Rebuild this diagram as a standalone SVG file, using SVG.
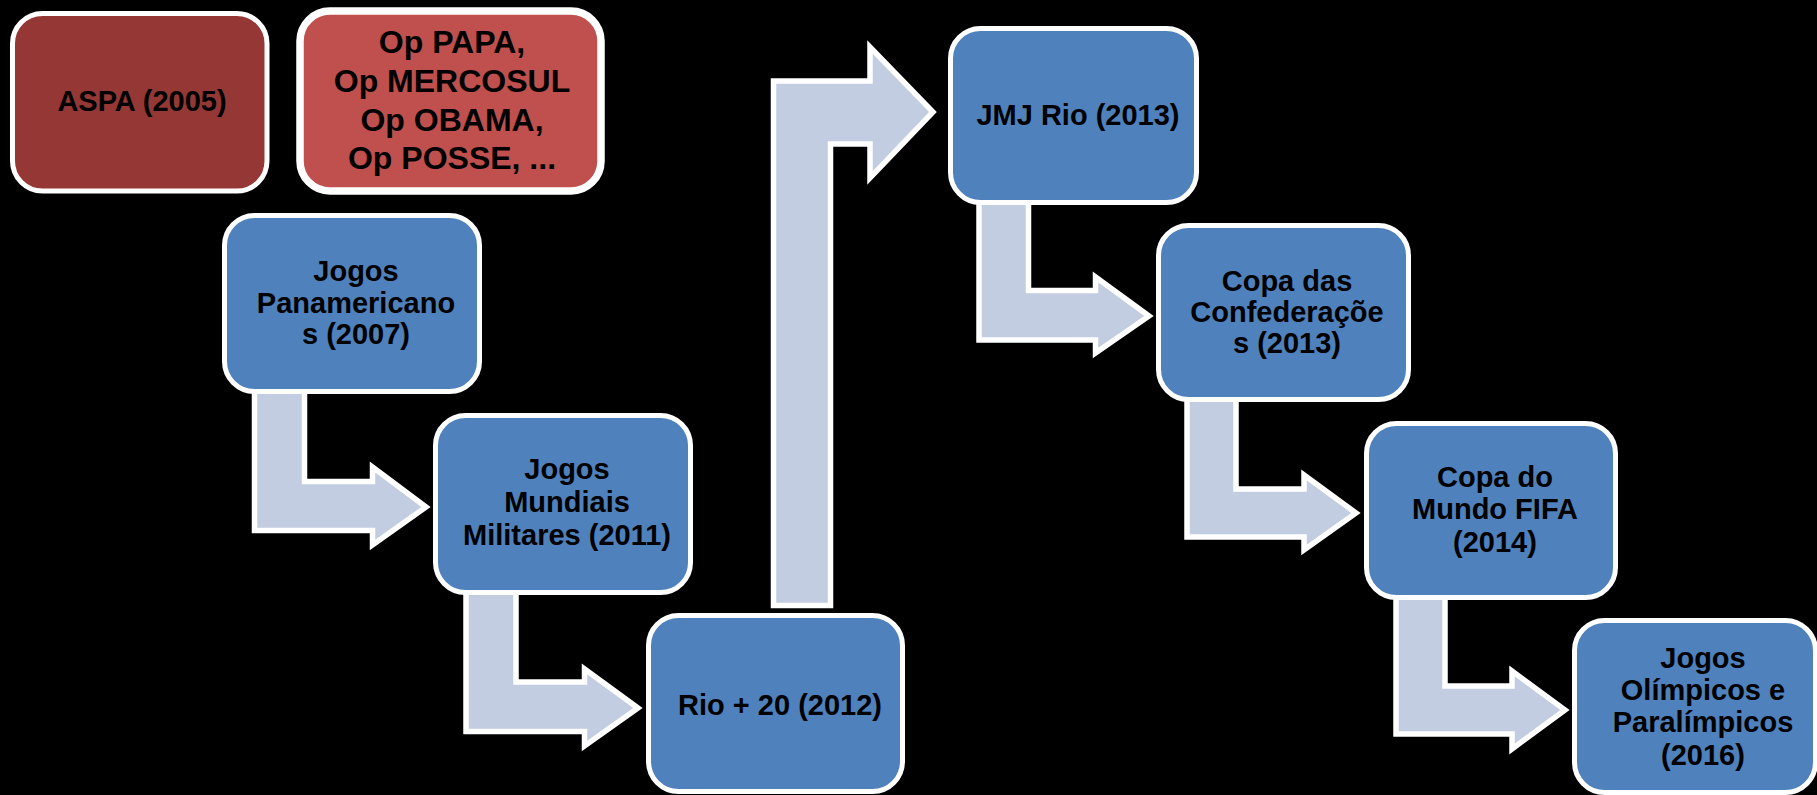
<svg xmlns="http://www.w3.org/2000/svg" width="1817" height="795" viewBox="0 0 1817 795">
<style>
.box{stroke:#FFFFFF;stroke-width:5}
.blue{fill:#4F81BD}
.arrow{fill:#C2CDE2;stroke:#FFFFFF;stroke-width:5.5;stroke-linejoin:miter}
text{font-family:"Liberation Sans",Arial,sans-serif;font-weight:bold;font-size:29px;fill:#000000;text-anchor:middle}
.op{font-size:32px}
</style>
<rect x="0" y="0" width="1817" height="795" fill="#000000"/>
<g id="connectors">
<path class="arrow" d="M254.5,380 V530.5 H372.5 V545 L426,507 L372.5,467 V481.5 H304.5 V380 Z"/>
<path class="arrow" d="M466,580 V731.5 H584.5 V746 L638,708 L584.5,669 V682 H516 V580 Z"/>
<path class="arrow" d="M773.5,605.5 V81 H870 V47 L933,112 L870,178 V144 H830.5 V605.5 Z"/>
<path class="arrow" d="M979,190 V340 H1095.5 V353 L1149,316 L1095.5,277 V290.5 H1028.5 V190 Z"/>
<path class="arrow" d="M1187,390 V537 H1304 V550 L1356,513 L1304,475 V489 H1236 V390 Z"/>
<path class="arrow" d="M1396,590 V734 H1512 V749 L1565,710 L1512,671 V686 H1445 V590 Z"/>
</g>
<g id="aspa">
<rect class="box" x="12.5" y="13.5" width="254.5" height="177.5" rx="30" fill="#953735"/>
<text x="142" y="111">ASPA (2005)</text>
</g>
<g id="op">
<rect x="300" y="11" width="301" height="180" rx="30" fill="#C0504D" stroke="#FFFFFF" stroke-width="7.5"/>
<text class="op" x="452" y="53">Op PAPA,</text>
<text class="op" x="452" y="92">Op MERCOSUL</text>
<text class="op" x="452" y="130.5">Op OBAMA,</text>
<text class="op" x="452" y="169">Op POSSE, ...</text>
</g>
<g id="panamericanos">
<rect class="box blue" x="224.5" y="215.5" width="255" height="176" rx="30"/>
<text x="356" y="281">Jogos</text>
<text x="356" y="313">Panamericano</text>
<text x="356" y="344">s (2007)</text>
</g>
<g id="mundiais">
<rect class="box blue" x="435.5" y="415.5" width="255" height="177" rx="30"/>
<text x="567" y="479">Jogos</text>
<text x="567" y="512">Mundiais</text>
<text x="567" y="545">Militares (2011)</text>
</g>
<g id="rio20">
<rect class="box blue" x="648.5" y="615.5" width="254" height="176" rx="30"/>
<text x="780" y="715">Rio + 20 (2012)</text>
</g>
<g id="jmj">
<rect class="box blue" x="950.5" y="28.5" width="246" height="174" rx="30"/>
<text x="1078" y="125">JMJ Rio (2013)</text>
</g>
<g id="confederacoes">
<rect class="box blue" x="1158.5" y="225.5" width="250" height="174" rx="30"/>
<text x="1287" y="291">Copa das</text>
<text x="1287" y="322">Confederaçõe</text>
<text x="1287" y="353">s (2013)</text>
</g>
<g id="copadomundo">
<rect class="box blue" x="1366.5" y="423.5" width="249" height="174" rx="30"/>
<text x="1495" y="487">Copa do</text>
<text x="1495" y="519">Mundo FIFA</text>
<text x="1495" y="552">(2014)</text>
</g>
<g id="olimpicos">
<rect class="box blue" x="1574.5" y="620.5" width="241" height="172" rx="30"/>
<text x="1703" y="668">Jogos</text>
<text x="1703" y="700">Olímpicos e</text>
<text x="1703" y="732">Paralímpicos</text>
<text x="1703" y="765">(2016)</text>
</g>
</svg>
